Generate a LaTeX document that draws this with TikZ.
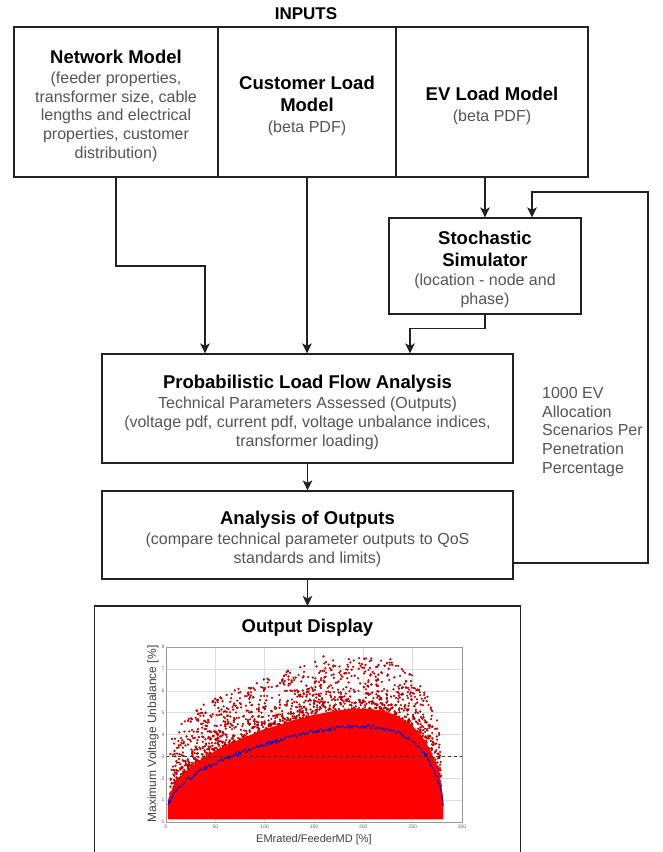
\documentclass[tikz,border=0pt]{standalone}
\usepackage{fontspec}
\setmainfont{Liberation Sans}
\usetikzlibrary{arrows.meta,calc}
\definecolor{linec}{HTML}{222222}
\definecolor{subc}{HTML}{555555}
\definecolor{dotc}{HTML}{A00000}
\definecolor{gridc}{HTML}{DDDDDD}
\definecolor{axc}{HTML}{999999}
\newcommand\subsz{\fontsize{16}{18.8}\selectfont}
\newcommand\ttlsz{\fontsize{18.5}{21}\selectfont\bfseries}
\newcommand\bt[1]{{\color{black}\ttlsz #1}}
\begin{document}
\begin{tikzpicture}[x=1pt,y=-1pt,
  box/.style={draw=linec, line width=1.2pt, inner sep=0pt},
  txt/.style={align=center, inner sep=0pt, text=subc, font=\subsz},
  conn/.style={draw=linec, line width=1.2pt, -{Stealth[length=10pt,width=9.5pt,inset=2.5pt]}},
  plain/.style={draw=linec, line width=1.2pt},
  gridl/.style={draw=gridc, line width=0.4pt},
  dot/.style={fill=red, draw=dotc, line width=0.3pt},
  tick/.style={font=\fontsize{5}{6}\selectfont, text=black!60, inner sep=0.5pt},
  declare function={mv(\x)=5.35*pow(\x/280,0.4)*sqrt(1-pow(\x/282,6));}
]
\useasboundingbox (0,0) rectangle (663,852);
\fill[white] (0,0) rectangle (663,852);

% title
\node[font=\fontsize{17}{20}\selectfont\bfseries] (inputs) at (306,14) {INPUTS};

% input boxes
\node[box, minimum width=204, minimum height=150] (net) at (116,102) {};
\node[txt] (nettxt) at ([yshift=-4pt]net.center)
  {\bt{Network Model}\\[1pt] (feeder properties,\\ transformer size, cable\\ lengths and electrical\\ properties, customer\\ distribution)};
\node[box, minimum width=178, minimum height=150] (cust) at (307,102) {};
\node[txt] (custtxt) at ([yshift=-4pt]cust.center)
  {\bt{Customer Load}\\[3pt]\bt{Model}\\[2pt](beta PDF)};
\node[box, minimum width=192, minimum height=150] (ev) at (492,102) {};
\node[txt] (evtxt) at ([yshift=-4pt]ev.center)
  {\bt{EV Load Model}\\[2pt](beta PDF)};

% stochastic simulator
\node[box, minimum width=192, minimum height=96] (stoch) at (485,266) {};
\node[txt] (stochtxt) at ([yshift=-3.5pt]stoch.center)
  {\bt{Stochastic}\\[3pt]\bt{Simulator}\\[1pt](location - node and\\ phase)};

% PLF
\node[box, minimum width=411, minimum height=109] (plf) at (307.5,408.5) {};
\node[txt] (plftxt) at ([yshift=-4pt]plf.center)
  {\bt{Probabilistic Load Flow Analysis}\\[1pt] Technical Parameters Assessed (Outputs)\\ (voltage pdf, current pdf, voltage unbalance indices,\\ transformer loading)};

% Analysis
\node[box, minimum width=411, minimum height=88] (ana) at (307.5,535) {};
\node[txt] (anatxt) at ([yshift=-4pt]ana.center)
  {\bt{Analysis of Outputs}\\[1pt](compare technical parameter outputs to QoS\\ standards and limits)};

% output display frame
\node[minimum width=425, minimum height=246, anchor=north, inner sep=0pt] (outbox) at (307.5,606) {};
\draw[plain] (outbox.south west) |- (outbox.north east) -- (outbox.south east);
\node[font=\ttlsz] (outttl) at (307.5,628) {Output Display};

% feedback label
\node[anchor=north west, align=left, inner sep=0pt, text=subc, font=\subsz] (fblabel) at (542,387)
  {1000 EV\\ Allocation\\ Scenarios Per\\ Penetration\\ Percentage};

% connectors
\coordinate (nbend) at (205,266);
\coordinate (fbR) at (648,192);
\draw[conn] (net.south) |- (nbend) -- (nbend |- plf.north);
\draw[conn] (cust.south) -- (cust.south |- plf.north);
\draw[conn] (ev.south -| stoch.north) -- (stoch.north);
\draw[conn] (stoch.south) -- ++(0,14) -| ([xshift=102.5pt]plf.north);
\draw[conn] (plf.south) -- (ana.north);
\draw[conn] ([yshift=-28pt]ana.east) -| (fbR) -| ([xshift=47pt]stoch.north);
\draw[conn] (ana.south) -- (outbox.north);

% plot
\begin{scope}[shift={(166pt,-822pt)}, x=0.98667pt, y=21.875pt]
  \foreach \gx in {50,100,...,250} \draw[gridl] (\gx,0) -- (\gx,8);
  \foreach \gy in {1,...,7} \draw[gridl] (0,\gy) -- (300,\gy);
  \pgfmathsetseed{4242}
  \foreach \i in {1,...,2200}{
    \pgfmathsetmacro\xx{4+275*rnd}
    \pgfmathsetmacro\yy{mv(\xx)*1.1+0.1+2.6*pow(rnd,3)}
    \filldraw[dot] (\xx,\yy) circle[radius=0.95pt];
  }
  \foreach \i in {1,...,12}{
    \pgfmathsetmacro\xx{70+180*rnd}
    \pgfmathsetmacro\yy{mv(\xx)+2.0+1.5*rnd}
    \filldraw[dot] (\xx,\yy) circle[radius=0.95pt];
  }
  \fill[red] plot[domain=2:281,samples=140] (\x,{mv(\x)*1.15+0.15}) -- (281,0.12) -- (2,0.12) -- cycle;
  \draw[blue!80!black, line width=0.8pt] plot[domain=2:281,samples=260] (\x,{mv(\x)+0.2*(rnd-0.5)});
  \draw[black!80, dashed, line width=0.8pt] (0,3) -- (300,3);
  \draw[axc, line width=0.5pt] (0,0) rectangle (300,8);
  \foreach \gx in {0,50,...,300} \node[tick, anchor=north] (xt\gx) at (\gx,-0.12) {\gx};
  \foreach \gy in {0,...,8} \node[tick, anchor=east] (yt\gy) at (-1,\gy) {\gy};
\end{scope}
\node[font=\fontsize{11}{13}\selectfont, text=black!75] (xlab) at (314,840) {EMrated/FeederMD [\%]};
\node[font=\fontsize{12}{14}\selectfont, text=black!75, rotate=90] (ylab) at (153,734) {Maximum Voltage Unbalance [\%]};
\end{tikzpicture}
\end{document}
